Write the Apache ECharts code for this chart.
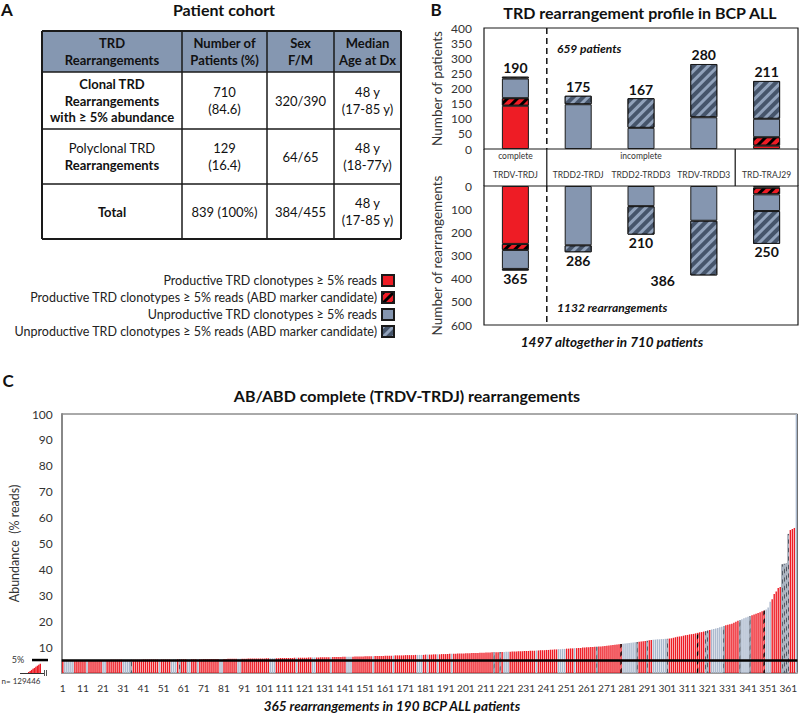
<!DOCTYPE html>
<html><head><meta charset="utf-8">
<script src="https://cdn.jsdelivr.net/npm/echarts@6/dist/echarts.min.js"></script>
<style>html,body{margin:0;padding:0;background:#fff}#c{width:800px;height:716px}</style>
</head><body><div id="c"></div>
<script>
const FONT = 'Lato, "Open Sans", sans-serif';

// ---------- Panel A: table ----------
const tableHeader = ['TRD\nRearrangements', 'Number of\nPatients (%)', 'Sex\nF/M', 'Median\nAge at Dx'];
const tableRowLabels = ['{b|Clonal TRD}\n{b|Rearrangements}\n{b|with ≥ 5% abundance}', '{n|Polyclonal TRD}\n{b|Rearrangements}', '{b|Total}'];
const tablePatients = ['710\n(84.6)', '129\n(16.4)', '839 (100%)'];
const tableSex = ['320/390', '64/65', '384/455'];
const tableAge = ['48 y\n(17-85 y)', '48 y\n(18-77y)', '48 y\n(17-85 y)'];

// ---------- Panel B: stacked bars ----------
const seriesNames = [
  'Productive TRD clonotypes ≥ 5% reads',
  'Productive TRD clonotypes ≥ 5% reads (ABD marker candidate)',
  'Unproductive TRD clonotypes ≥ 5% reads',
  'Unproductive TRD clonotypes ≥ 5% reads (ABD marker candidate)'
];
const profileCategories = ['TRDV-TRDJ', 'TRDD2-TRDJ', 'TRDD2-TRDD3', 'TRDV-TRDD3', 'TRD-TRAJ29'];
const patProductive      = [143, 0, 0, 0, 11];
const patProductiveABD   = [25, 0, 0, 0, 28];
const patUnproductive    = [65, 148, 70, 105, 61];
const patUnproductiveABD = [6, 28, 98, 176, 125];
const patientTotals      = [190, 175, 167, 280, 211];
const rearProductive      = [250, 0, 0, 0, 7];
const rearProductiveABD   = [26, 0, 0, 0, 29];
const rearUnproductive    = [82, 256, 87, 150, 72];
const rearUnproductiveABD = [7, 30, 123, 236, 142];
const rearTotals          = [365, 286, 210, 386, 250];

// ---------- Panel C: abundance of 365 complete rearrangements ----------
const abundance = [
5.0,5.0,5.0,5.0,5.0,5.0,5.0,5.0,5.0,5.0,
5.0,5.0,5.0,5.0,5.0,5.0,5.0,5.0,5.0,5.0,
5.0,5.0,5.0,5.0,5.1,5.1,5.1,5.1,5.1,5.1,
5.1,5.1,5.1,5.1,5.1,5.1,5.1,5.1,5.1,5.1,
5.2,5.2,5.2,5.2,5.2,5.2,5.2,5.2,5.2,5.2,
5.2,5.2,5.2,5.2,5.2,5.3,5.3,5.3,5.3,5.3,
5.3,5.3,5.3,5.3,5.3,5.3,5.3,5.3,5.3,5.3,
5.4,5.4,5.4,5.4,5.4,5.4,5.4,5.4,5.4,5.4,
5.4,5.4,5.5,5.5,5.5,5.5,5.5,5.5,5.5,5.5,
5.5,5.5,5.6,5.6,5.6,5.6,5.6,5.6,5.6,5.6,
5.6,5.7,5.7,5.7,5.7,5.7,5.7,5.7,5.8,5.8,
5.8,5.8,5.8,5.8,5.8,5.9,5.9,5.9,5.9,5.9,
5.9,5.9,6.0,6.0,6.0,6.0,6.0,6.0,6.1,6.1,
6.1,6.1,6.1,6.1,6.2,6.2,6.2,6.2,6.2,6.3,
6.3,6.3,6.3,6.3,6.3,6.4,6.4,6.4,6.4,6.4,
6.5,6.5,6.5,6.5,6.5,6.6,6.6,6.6,6.6,6.6,
6.7,6.7,6.7,6.7,6.7,6.8,6.8,6.8,6.8,6.8,
6.9,6.9,6.9,6.9,6.9,7.0,7.0,7.0,7.0,7.0,
7.1,7.1,7.1,7.1,7.2,7.2,7.2,7.2,7.3,7.3,
7.3,7.3,7.4,7.4,7.4,7.4,7.5,7.5,7.5,7.5,
7.6,7.6,7.6,7.7,7.7,7.7,7.7,7.8,7.8,7.8,
7.9,7.9,7.9,8.0,8.0,8.0,8.0,8.1,8.1,8.1,
8.2,8.2,8.2,8.3,8.3,8.3,8.4,8.4,8.4,8.5,
8.5,8.5,8.6,8.6,8.6,8.7,8.7,8.8,8.8,8.8,
8.9,8.9,9.0,9.0,9.1,9.1,9.2,9.2,9.3,9.3,
9.4,9.4,9.5,9.5,9.6,9.6,9.7,9.7,9.8,9.8,
9.9,9.9,10.0,10.0,10.1,10.1,10.2,10.2,10.3,10.4,
10.5,10.6,10.7,10.8,10.9,11.0,11.1,11.2,11.3,11.4,
11.5,11.6,11.7,11.8,11.9,12.0,12.1,12.2,12.3,12.4,
12.5,12.6,12.7,12.8,12.9,13.0,13.0,13.1,13.1,13.2,
13.2,13.3,13.4,13.6,13.8,14.0,14.1,14.2,14.4,14.6,
14.7,14.9,15.0,15.1,15.3,15.5,15.7,15.8,16.0,16.2,
16.4,16.6,16.8,17.0,17.2,17.4,17.7,17.9,18.1,18.4,
18.6,18.8,19.0,19.4,19.8,20.2,20.5,20.8,21.1,21.4,
21.7,22.0,22.3,22.6,22.9,23.2,23.5,23.8,24.1,24.5,
25.3,27.5,28.5,30.5,31.5,32.8,33.2,42.0,42.2,42.3,
53.7,55.2,55.6,56.0,100
];
// P = productive, A = productive ABD candidate, U = unproductive, H = unproductive ABD candidate
const clonotypeTypeRows = [
'PUUUUUPPPP','PPUPPPPPPP','UUPPPPPPPP','UUUUHPPPPP','PPPPPPPPUP',
'PPPPUUUPHP','PPUUPPPUPP','PPPPPPPPUU','PPPPPPPUUP','PPPPPPPPPP',
'PPPUUUPPPP','PPPPPPUPPP','PPPPUUPPPP','PPPUPPPPPP','PUUUPPPPPP',
'PPPPUPPPPP','PPPPUPPPPP','PPPPPPUUUP','PUPPPPUPPP','PPPUPPPPPP',
'PPPPPPPPPP','PPPPHPPHPU','UUPPPPPPPP','PPPPPUPPPP','PPPPPPUUUU',
'PPPPUPPPPP','PPPPPHPPPP','PPPPPPPAUU','UUUUUHPPPP','HPPUUUUUUU',
'HPPPPPPPPP','PPPPPAPPPH','HPUUUUUUHP','PPPPPPHUUU','UHPPPPPPAU',
'UUPPPPPHHH','HPPPU'
];
const insetLowAbundance = [0.5, 0.9, 1.4, 1.9, 2.3, 2.8, 3.3, 3.8, 4.2];
const insetCategories = ['a','b','c','d','e','f','g','h','i'];

// ---------- layout constants ----------
const A_COLS = [42, 182, 267, 334, 401];
const A_ROWS = [31, 72, 129, 184, 239];
const B_LEFT = 484, B_RIGHT = 798, B_TOP1 = 28, B_BOT1 = 149, B_TOP2 = 186, B_BOT2 = 325;
const C_LEFT = 48, C_RIGHT = 799, C_TOP = 414, C_BOT = 673;

const RED = '#ee1c25', GRAY = '#8596b0', DARK = '#46556b', LIGHTGRAY = '#a9b7cc';
const decalRed = {symbol: 'rect', symbolSize: 1, dashArrayX: [1, 0], dashArrayY: [3, 4], rotation: -Math.PI / 4, color: '#000'};
const decalGray = {symbol: 'rect', symbolSize: 1, dashArrayX: [1, 0], dashArrayY: [3, 4], rotation: -Math.PI / 4, color: '#91a2bb'};
const seriesStyles = [
  {color: RED},
  {color: RED, decal: decalRed},
  {color: GRAY},
  {color: DARK, decal: decalGray}
];

const chart = echarts.init(document.getElementById('c'), null, {renderer: 'svg'});

function txt(text, x, y, o) {
  o = o || {};
  return {type: 'text', silent: true, z: 50, style: Object.assign({
    text: text, x: x, y: y, fill: o.fill || '#111',
    fontFamily: FONT, fontSize: o.size || 12, fontWeight: o.weight || 'normal', fontStyle: o.style || 'normal',
    align: o.align || 'center', verticalAlign: o.valign || 'middle',
    textAlign: o.align || 'center', textVerticalAlign: o.valign || 'middle',
    lineHeight: o.lh || 16.5
  }, o.rich ? {rich: o.rich} : {})};
}
function line(x1, y1, x2, y2, o) {
  o = o || {};
  return {type: 'line', silent: true, z: o.z || 40, shape: {x1: x1, y1: y1, x2: x2, y2: y2},
    style: {stroke: o.color || '#111', lineWidth: o.width || 1, lineDash: o.dash || null}};
}

// ---------- graphics: table ----------
const g = [];
g.push({type: 'rect', silent: true, z: 30, shape: {x: A_COLS[0], y: A_ROWS[0], width: A_COLS[4] - A_COLS[0], height: A_ROWS[1] - A_ROWS[0]}, style: {fill: '#8597b1'}});
for (let i = 0; i < A_COLS.length; i++) g.push(line(A_COLS[i], A_ROWS[0], A_COLS[i], A_ROWS[4], {width: (i === 0 || i === 4) ? 2 : 1.5, color: '#1a1a1a'}));
for (let j = 0; j < A_ROWS.length; j++) g.push(line(A_COLS[0], A_ROWS[j], A_COLS[4], A_ROWS[j], {width: (j === 0 || j === 4) ? 2 : 1.5, color: '#1a1a1a'}));
const rich = {
  b: {fontFamily: FONT, fontSize: 13, fontWeight: 'bold', lineHeight: 16.5, fill: '#111', color: '#111'},
  n: {fontFamily: FONT, fontSize: 13, fontWeight: 'normal', lineHeight: 16.5, fill: '#111', color: '#111'}
};
tableHeader.forEach((h, i) => g.push(txt(h, (A_COLS[i] + A_COLS[i + 1]) / 2, (A_ROWS[0] + A_ROWS[1]) / 2, {weight: 'bold', size: 13})));
for (let r = 0; r < 3; r++) {
  const cy = (A_ROWS[r + 1] + A_ROWS[r + 2]) / 2;
  g.push(txt(tableRowLabels[r], (A_COLS[0] + A_COLS[1]) / 2, cy, {rich: rich, size: 13}));
  g.push(txt(tablePatients[r], (A_COLS[1] + A_COLS[2]) / 2, cy, {size: 13}));
  g.push(txt(tableSex[r], (A_COLS[2] + A_COLS[3]) / 2, cy, {size: 13}));
  g.push(txt(tableAge[r], (A_COLS[3] + A_COLS[4]) / 2, cy, {size: 13}));
}
// panel labels & titles
g.push(txt('A', 7, 9, {weight: 'bold', size: 17}));
g.push(txt('B', 436, 9, {weight: 'bold', size: 17}));
g.push(txt('C', 8, 380, {weight: 'bold', size: 17}));
g.push(txt('Patient cohort', 224, 9, {weight: 'bold', size: 16}));
g.push(txt('TRD rearrangement profile in BCP ALL', 640, 12, {weight: 'bold', size: 16}));
g.push(txt('AB/ABD complete (TRDV-TRDJ) rearrangements', 407, 395, {weight: 'bold', size: 16}));

// panel B decorations
const catW = (B_RIGHT - B_LEFT) / profileCategories.length;
const xDiv1 = B_LEFT + catW, xDiv2 = B_LEFT + catW * 4;
g.push(line(B_LEFT, B_BOT1, B_LEFT, B_TOP2, {width: 1.2}));
g.push(line(B_RIGHT, B_BOT1, B_RIGHT, B_TOP2, {width: 1.2}));
g.push(line(xDiv1, B_BOT1, xDiv1, B_TOP2, {width: 1.2}));
g.push(line(xDiv2, B_BOT1, xDiv2, B_TOP2, {width: 1.2}));
g.push(line(xDiv1, B_TOP1, xDiv1, B_BOT1, {width: 1.5, dash: [6, 4]}));
g.push(line(xDiv1, B_TOP2, xDiv1, B_BOT2, {width: 1.5, dash: [6, 4]}));
g.push(txt('complete', B_LEFT + catW / 2, 156, {size: 8.5, fill: '#333'}));
g.push(txt('incomplete', B_LEFT + catW * 2.5, 156, {size: 8.5, fill: '#333'}));
g.push(txt('659 patients', 557, 48, {weight: 'bold', style: 'italic', size: 12, align: 'left'}));
g.push(txt('1132 rearrangements', 557, 307, {weight: 'bold', style: 'italic', size: 12, align: 'left'}));
g.push(txt('1497 altogether in 710 patients', 612, 342, {weight: 'bold', style: 'italic', size: 13.5}));

// panel C decorations
g.push(txt('365 rearrangements in 190 BCP ALL patients', 392, 706, {weight: 'bold', style: 'italic', size: 13.5}));
g.push(txt('n= 129446', 21, 681, {size: 8, fill: '#333'}));
g.push(line(20, C_BOT + 0.5, 44, C_BOT + 0.5, {color: '#333', width: 1}));
g.push(line(44.5, C_BOT - 3, 44.5, C_BOT + 3, {color: '#555', width: 1}));
g.push(line(46.5, C_BOT - 3, 46.5, C_BOT + 3, {color: '#555', width: 1}));

function mkB(idx, data, grid, labelOpt) {
  return {
    type: 'bar', name: seriesNames[idx], stack: 'g' + grid, xAxisIndex: grid, yAxisIndex: grid,
    barWidth: 27,
    itemStyle: Object.assign({borderColor: '#1a1a1a', borderWidth: 1}, seriesStyles[idx]),
    data: data.map(v => v === 0 ? null : v),
    label: labelOpt || {show: false}
  };
}
const topLabel = {show: true, position: 'top', distance: 2, formatter: p => patientTotals[p.dataIndex],
  fontFamily: FONT, fontWeight: 'bold', fontSize: 14, color: '#111'};
const botLabel = {show: true, position: 'bottom', distance: 1, formatter: p => rearTotals[p.dataIndex],
  fontFamily: FONT, fontWeight: 'bold', fontSize: 14, color: '#111'};

const bottomHatch = mkB(3, rearUnproductiveABD, 1, botLabel);
bottomHatch.data = bottomHatch.data.map((v, i) => i === 3 ? {value: v, label: {offset: [-41, -3]}} : v);

function styleFor(t) {
  if (t === 'A') return {color: RED, decal: {symbol: 'rect', symbolSize: 1, dashArrayX: [1, 0], dashArrayY: [3, 3], rotation: -Math.PI / 4, color: '#000'}};
  if (t === 'U') return {color: LIGHTGRAY};
  if (t === 'H') return {color: '#4d5563', decal: {symbol: 'rect', symbolSize: 1, dashArrayX: [1, 0], dashArrayY: [3, 3], rotation: -Math.PI / 4, color: '#a9b4c4'}};
  return {color: RED};
}
const clonotypeType = clonotypeTypeRows.join('').split('');
const indexLabels = abundance.map((v, i) => String(i + 1));

const option = {
  animation: false,
  backgroundColor: '#fff',
  textStyle: {fontFamily: FONT},
  legend: {
    data: seriesNames, orient: 'vertical', right: 400, top: 269, align: 'right',
    itemWidth: 12, itemHeight: 11, itemGap: 4, selectedMode: false, icon: 'rect',
    textStyle: {fontFamily: FONT, fontSize: 12.5, color: '#222'}
  },
  grid: [
    {left: B_LEFT, top: B_TOP1, width: B_RIGHT - B_LEFT, height: B_BOT1 - B_TOP1, show: true, borderColor: '#1a1a1a', borderWidth: 1.2},
    {left: B_LEFT, top: B_TOP2, width: B_RIGHT - B_LEFT, height: B_BOT2 - B_TOP2, show: true, borderColor: '#1a1a1a', borderWidth: 1.2},
    {left: C_LEFT, top: C_TOP, width: C_RIGHT - C_LEFT, height: C_BOT - C_TOP, show: true, borderColor: '#555', borderWidth: 1},
    {left: 28, top: C_BOT - 11, width: 13, height: 11}
  ],
  xAxis: [
    {gridIndex: 0, type: 'category', data: profileCategories, axisLine: {show: false}, axisTick: {show: false},
      axisLabel: {interval: 0, margin: 21, fontSize: 8.5, color: '#333', fontFamily: FONT}},
    {gridIndex: 1, type: 'category', data: profileCategories, axisLine: {show: false}, axisTick: {show: false}, axisLabel: {show: false}},
    {gridIndex: 2, type: 'category', data: indexLabels, axisLine: {lineStyle: {color: '#999', width: 1.5}}, axisTick: {show: false},
      axisLabel: {interval: 9, fontSize: 10.2, color: '#333', margin: 10, fontFamily: FONT}},
    {gridIndex: 3, type: 'category', data: insetCategories, show: false}
  ],
  yAxis: [
    {gridIndex: 0, type: 'value', min: 0, max: 400, interval: 50, axisLine: {show: false}, axisTick: {show: false}, splitLine: {show: false},
      axisLabel: {fontSize: 12, color: '#333', margin: 12, fontFamily: FONT},
      name: 'Number of patients', nameLocation: 'middle', nameGap: 40, nameTextStyle: {fontSize: 13.5, color: '#333', fontFamily: FONT}},
    {gridIndex: 1, type: 'value', inverse: true, min: 0, max: 600, interval: 100, axisLine: {show: false}, axisTick: {show: false}, splitLine: {show: false},
      axisLabel: {fontSize: 12, color: '#333', margin: 12, fontFamily: FONT},
      name: 'Number of rearrangements', nameLocation: 'middle', nameGap: 40, nameTextStyle: {fontSize: 13.5, color: '#333', fontFamily: FONT}},
    {gridIndex: 2, type: 'value', min: 0, max: 100, interval: 10, axisLine: {show: true, lineStyle: {color: '#888', width: 2}}, axisTick: {show: false}, splitLine: {show: false},
      axisLabel: {fontSize: 12, color: '#333', margin: 9, fontFamily: FONT, formatter: v => v === 0 ? '' : v},
      name: 'Abundance  (% reads)', nameLocation: 'middle', nameGap: 33, nameTextStyle: {fontSize: 12.5, color: '#333', fontFamily: FONT}},
    {gridIndex: 3, type: 'value', min: 0, max: 5, show: false}
  ],
  series: [
    mkB(0, patProductive, 0), mkB(1, patProductiveABD, 0), mkB(2, patUnproductive, 0), mkB(3, patUnproductiveABD, 0, topLabel),
    mkB(0, rearProductive, 1), mkB(1, rearProductiveABD, 1), mkB(2, rearUnproductive, 1), bottomHatch,
    {
      type: 'bar', name: 'abundance', xAxisIndex: 2, yAxisIndex: 2, barCategoryGap: '30%',
      data: abundance.map((v, i) => ({value: v, itemStyle: styleFor(clonotypeType[i])})),
      markLine: {silent: true, symbol: 'none', label: {show: false}, data: [{yAxis: 5}], lineStyle: {color: '#000', width: 2.5, type: 'solid'}}
    },
    {type: 'bar', name: 'below threshold', xAxisIndex: 3, yAxisIndex: 3, barCategoryGap: '0%', data: insetLowAbundance, itemStyle: {color: RED}}
  ],
  graphic: g
};
chart.setOption(option);
const y5 = chart.convertToPixel({gridIndex: 2}, [0, 5])[1];
g.push(line(32, y5, C_LEFT, y5, {color: '#000', width: 2.5}));
g.push(txt('5%', 18, y5 - 1, {size: 9, fill: '#333'}));
chart.setOption({graphic: g});
</script>
</body></html>
